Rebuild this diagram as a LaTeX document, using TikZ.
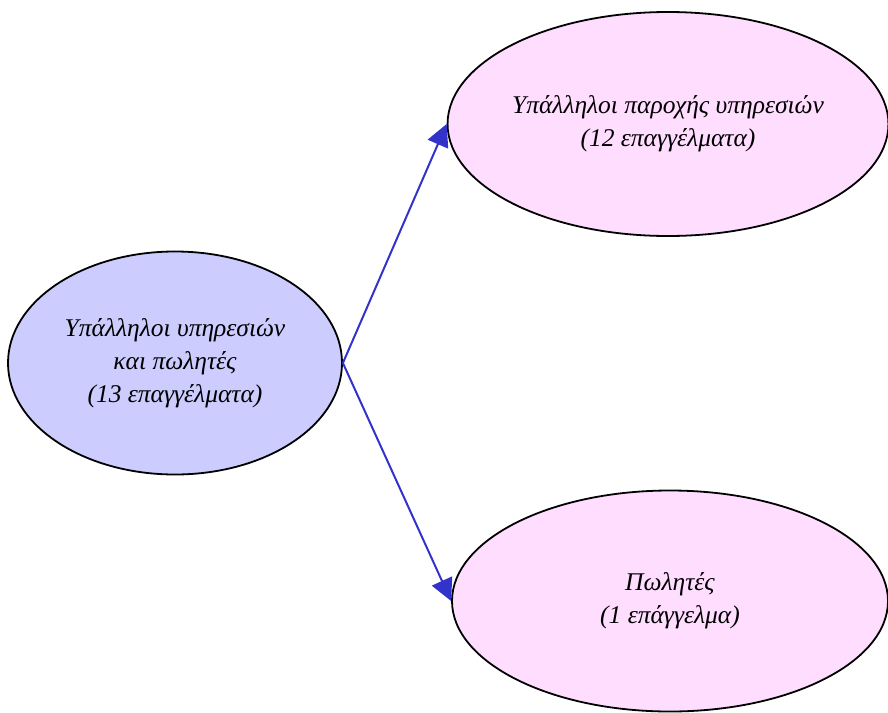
\documentclass[tikz,border=0pt]{standalone}
\usepackage{fontspec}
\setmainfont{Liberation Serif}
\usepackage{tikz}
\usetikzlibrary{arrows.meta,shapes.geometric,positioning}
\definecolor{groupfill}{HTML}{CCCCFF}
\definecolor{leaffill}{HTML}{FFDDFF}
\definecolor{linkblue}{HTML}{3333CC}

\begin{document}
\begin{tikzpicture}[x=1pt,y=-1pt,
  occ/.style={ellipse,draw=black,line width=1.8pt,inner sep=0pt,
    align=center,font=\itshape\fontsize{25.5}{33}\selectfont},
  link/.style={draw=linkblue,line width=2pt,-{Triangle[length=22pt,width=22pt]}}]
\useasboundingbox (0,0) rectangle (888,712);
\node[occ,fill=groupfill,minimum width=334pt,minimum height=223pt] (main) at (175,363) {Υπάλληλοι υπηρεσιών\\και πωλητές\\(13 επαγγέλματα)};
\node[occ,fill=leaffill,minimum width=439pt,minimum height=224pt] (serv) at (668,124) {Υπάλληλοι παροχής υπηρεσιών\\(12 επαγγέλματα)};
\node[occ,fill=leaffill,minimum width=436pt,minimum height=221pt] (sales) at (670,601) {Πωλητές\\(1 επάγγελμα)};
\draw[link] (main.east) -- (serv.west);
\draw[link] (main.east) -- (sales.west);
\end{tikzpicture}
\end{document}
